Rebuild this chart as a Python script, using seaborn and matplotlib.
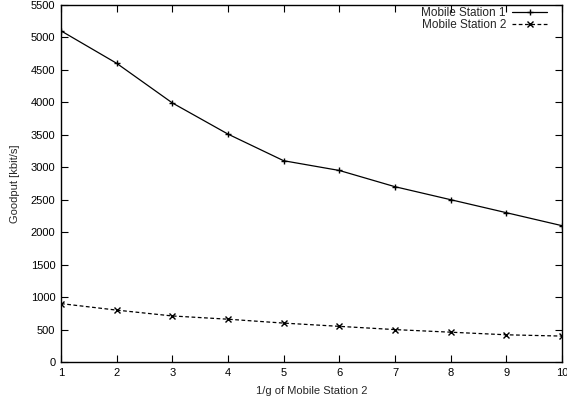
import pandas as pd
import seaborn as sns
import matplotlib
matplotlib.use("Agg")
import matplotlib.pyplot as plt

inv_g = [1, 2, 3, 4, 5, 6, 7, 8, 9, 10]
station1 = [5100, 4600, 3990, 3510, 3100, 2950, 2700, 2500, 2300, 2100]
station2 = [900, 800, 710, 660, 600, 550, 500, 460, 420, 400]
series_names = ["Mobile Station 1", "Mobile Station 2"]
x_ticks = list(range(1, 11))
y_ticks = list(range(0, 5501, 500))

df = pd.DataFrame({
    "x": inv_g * 2,
    "goodput": station1 + station2,
    "series": [series_names[0]] * len(inv_g) + [series_names[1]] * len(inv_g),
})

sns.set_style("ticks")
plt.rcParams["font.family"] = ["Liberation Sans", "DejaVu Sans"]
plt.rcParams["font.size"] = 8

fig = plt.figure(figsize=(5.67, 4.05), dpi=100)
ax = fig.add_axes([0.1076, 0.106, 0.8836, 0.882])

sns.lineplot(data=df, x="x", y="goodput", hue="series", style="series",
             palette=["black", "black"], dashes=[(None, None), (3, 2)],
             markers=["+", "x"], markersize=4.5, markeredgewidth=1,
             markeredgecolor="black",
             linewidth=0.9, ax=ax, legend=False)

# gnuplot-like key: label on the left, sample on the right
handles = ax.get_lines()[:2]
ax.legend(handles, series_names, loc="upper right", frameon=False,
          bbox_to_anchor=(0.973, 0.997), markerfirst=False,
          handlelength=3.0, handletextpad=0.5, labelspacing=0.0,
          borderaxespad=0, borderpad=0.1, fontsize=8.5)

ax.set_xlim(1, 10)
ax.set_ylim(0, 5500)
ax.set_xticks(x_ticks)
ax.set_yticks(y_ticks)
ax.tick_params(direction="in", length=5, width=0.8, top=True, right=True,
               labelsize=8, colors="black", pad=4)
for s in ax.spines.values():
    s.set_linewidth(1)
    s.set_color("black")
ax.set_xlabel("1/g of Mobile Station 2", fontsize=8, labelpad=6)
ax.set_ylabel("Goodput [kbit/s]", fontsize=8, labelpad=8)

fig.savefig("out.png", dpi=100)
